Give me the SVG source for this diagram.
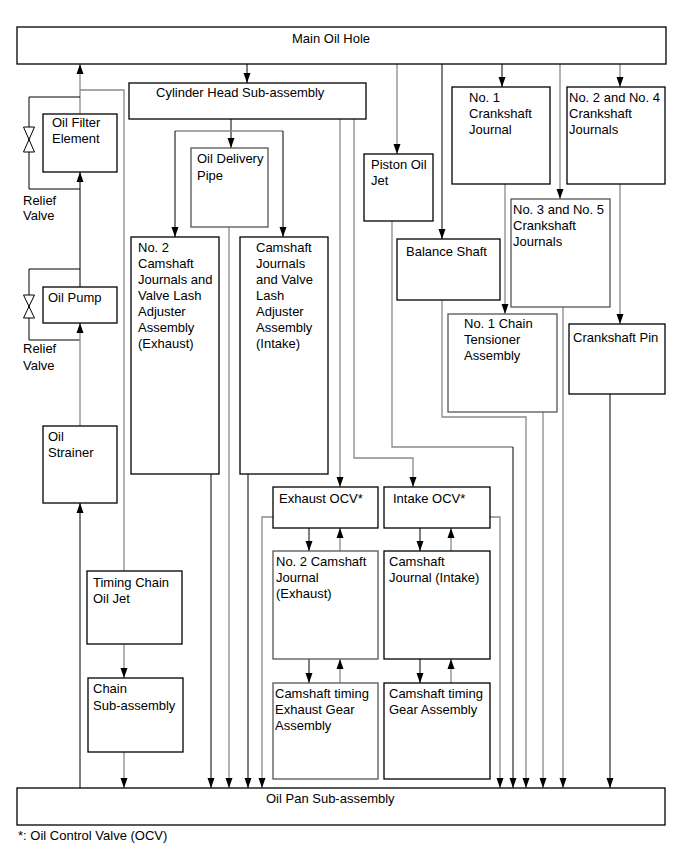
<svg xmlns="http://www.w3.org/2000/svg" width="691" height="855" viewBox="0 0 691 855">
<style>
.box{fill:#fff;stroke:#000;stroke-width:1.3}
.boxg{fill:#fff;stroke:#555;stroke-width:1.3}
text{font-family:"Liberation Sans",Arial,sans-serif;font-size:13px;fill:#000}
.c{fill:none;stroke:#000;stroke-width:1}
.g{fill:none;stroke:#8a8a8a;stroke-width:1.3}
.a{marker-end:url(#ah)}
.valve{fill:#fff;stroke:#000;stroke-width:1}
</style>
<defs>
<marker id="ah" markerUnits="userSpaceOnUse" markerWidth="10" markerHeight="8" refX="10" refY="3.5" orient="auto" viewBox="0 0 10 7">
<path d="M0,0 L10,3.5 L0,7 Z" fill="#000"/>
</marker>
</defs>
<rect width="691" height="855" fill="#fff"/>
<g id="connectors">
<path class="g a" d="M80,114 V64"/>
<path class="g" d="M80,90 H124 V571"/>
<path class="c" d="M80,97 H29 V189 H80"/>
<path class="c a" d="M80,287 V172"/>
<path class="c" d="M80,269 H29 V340 H80"/>
<path class="g a" d="M80,426 V323"/>
<path class="c a" d="M80,788 V503"/>
<path class="g a" d="M124,644 V678"/>
<path class="g a" d="M124,752 V788"/>
<path class="c a" d="M247,64 V83"/>
<path class="c a" d="M231,119 V148"/>
<path class="g" d="M175,131 H283"/>
<path class="c a" d="M175,131 V237"/>
<path class="c a" d="M283,131 V237"/>
<path class="g a" d="M229,227 V788"/>
<path class="c a" d="M211,474 V788"/>
<path class="c a" d="M248,474 V788"/>
<path class="g a" d="M340,119 V487"/>
<path class="g a" d="M354,119 V458 H413 V487"/>
<path class="g a" d="M273,517 H262 V788"/>
<path class="g a" d="M490,517 H500 V788"/>
<path class="c a" d="M309,528 V551"/>
<path class="g a" d="M340,551 V528"/>
<path class="c a" d="M309,659 V683"/>
<path class="g a" d="M340,683 V659"/>
<path class="c a" d="M420,528 V551"/>
<path class="g a" d="M451,551 V528"/>
<path class="c a" d="M420,659 V683"/>
<path class="g a" d="M451,683 V659"/>
<path class="g a" d="M397,64 V154"/>
<path class="c a" d="M442,64 V239"/>
<path class="c a" d="M502,64 V87"/>
<path class="g a" d="M560,64 V199"/>
<path class="g a" d="M620,64 V87"/>
<path class="g a" d="M505,184 V314"/>
<path class="g a" d="M620,184 V324"/>
<path class="g" d="M392,221 V447 H513"/>
<path class="c a" d="M513,447 V788"/>
<path class="g a" d="M442,300 V417 H526 V788"/>
<path class="g a" d="M543,412 V788"/>
<path class="g a" d="M563,307 V788"/>
<path class="c a" d="M610,394 V788"/>
<polygon class="valve" points="23.5,127 34.5,127 29,139.5"/>
<polygon class="valve" points="23.5,152 34.5,152 29,139.5"/>
<polygon class="valve" points="23.5,295 34.5,295 29,306.5"/>
<polygon class="valve" points="23.5,318 34.5,318 29,306.5"/>
</g>
<g id="main-oil-hole"><rect class="box" x="17" y="27" width="649" height="37"/><text x="292" y="43">Main Oil Hole</text></g>
<g id="oil-filter"><rect class="box" x="43" y="114" width="74" height="58"/><text x="52" y="127">Oil Filter</text><text x="52" y="143">Element</text></g>
<g id="relief-valve-1"><text x="23" y="205">Relief</text><text x="23" y="220">Valve</text></g>
<g id="oil-pump"><rect class="box" x="43" y="287" width="74" height="36"/><text x="48" y="302">Oil Pump</text></g>
<g id="relief-valve-2"><text x="23" y="353">Relief</text><text x="23" y="370">Valve</text></g>
<g id="oil-strainer"><rect class="box" x="43" y="426" width="74" height="77"/><text x="48" y="441">Oil</text><text x="48" y="457">Strainer</text></g>
<g id="cylinder-head"><rect class="box" x="129" y="83" width="237" height="36"/><text x="156" y="97">Cylinder Head Sub-assembly</text></g>
<g id="oil-delivery-pipe"><rect class="boxg" x="191" y="148" width="77" height="79"/><text x="197" y="163">Oil Delivery</text><text x="197" y="180">Pipe</text></g>
<g id="cam-exhaust-lash"><rect class="box" x="131" y="237" width="88" height="237"/><text x="138" y="252">No. 2</text><text x="138" y="268">Camshaft</text><text x="138" y="284">Journals and</text><text x="138" y="300">Valve Lash</text><text x="138" y="316">Adjuster</text><text x="138" y="332">Assembly</text><text x="138" y="348">(Exhaust)</text></g>
<g id="cam-intake-lash"><rect class="box" x="240" y="237" width="88" height="237"/><text x="256" y="252">Camshaft</text><text x="256" y="268">Journals</text><text x="256" y="284">and Valve</text><text x="256" y="300">Lash</text><text x="256" y="316">Adjuster</text><text x="256" y="332">Assembly</text><text x="256" y="348">(Intake)</text></g>
<g id="timing-chain-jet"><rect class="box" x="87" y="571" width="95" height="73"/><text x="93" y="587">Timing Chain</text><text x="93" y="603">Oil Jet</text></g>
<g id="chain-sub"><rect class="box" x="88" y="678" width="95" height="74"/><text x="93" y="693">Chain</text><text x="93" y="710">Sub-assembly</text></g>
<g id="exhaust-ocv"><rect class="box" x="273" y="487" width="105" height="41"/><text x="279" y="503">Exhaust OCV*</text></g>
<g id="cam-journal-exhaust"><rect class="boxg" x="273" y="551" width="105" height="108"/><text x="276" y="566">No. 2 Camshaft</text><text x="276" y="582">Journal</text><text x="276" y="598">(Exhaust)</text></g>
<g id="timing-exhaust-gear"><rect class="boxg" x="273" y="683" width="105" height="96"/><text x="275" y="698">Camshaft timing</text><text x="275" y="714">Exhaust Gear</text><text x="275" y="730">Assembly</text></g>
<g id="intake-ocv"><rect class="box" x="384" y="487" width="106" height="41"/><text x="393" y="503">Intake OCV*</text></g>
<g id="cam-journal-intake"><rect class="box" x="384" y="551" width="106" height="108"/><text x="389" y="566">Camshaft</text><text x="389" y="582">Journal (Intake)</text></g>
<g id="timing-gear"><rect class="box" x="384" y="683" width="106" height="96"/><text x="389" y="698">Camshaft timing</text><text x="389" y="714">Gear Assembly</text></g>
<g id="piston-oil-jet"><rect class="box" x="364" y="154" width="69" height="67"/><text x="371" y="169">Piston Oil</text><text x="371" y="185">Jet</text></g>
<g id="balance-shaft"><rect class="box" x="397" y="239" width="103" height="61"/><text x="406" y="256">Balance Shaft</text></g>
<g id="crank-journal-1"><rect class="box" x="452" y="87" width="98" height="97"/><text x="469" y="102">No. 1</text><text x="469" y="118">Crankshaft</text><text x="469" y="134">Journal</text></g>
<g id="crank-journal-2-4"><rect class="box" x="567" y="87" width="98" height="97"/><text x="569" y="102">No. 2 and No. 4</text><text x="569" y="118">Crankshaft</text><text x="569" y="134">Journals</text></g>
<g id="crank-journal-3-5"><rect class="boxg" x="511" y="199" width="99" height="108"/><text x="513" y="214">No. 3 and No. 5</text><text x="513" y="230">Crankshaft</text><text x="513" y="246">Journals</text></g>
<g id="chain-tensioner"><rect class="boxg" x="448" y="314" width="109" height="98"/><text x="464" y="328">No. 1 Chain</text><text x="464" y="344">Tensioner</text><text x="464" y="360">Assembly</text></g>
<g id="crankshaft-pin"><rect class="box" x="569" y="324" width="96" height="70"/><text x="573" y="342">Crankshaft Pin</text></g>
<g id="oil-pan"><rect class="box" x="17" y="788" width="648" height="37"/><text x="266" y="803">Oil Pan Sub-assembly</text></g>
<g id="footnote"><text x="18" y="840">*: Oil Control Valve (OCV)</text></g>
</svg>
